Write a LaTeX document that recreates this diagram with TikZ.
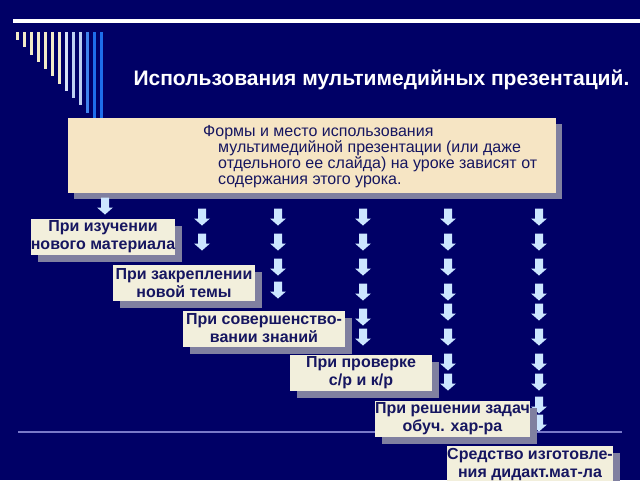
\documentclass[tikz,border=0pt]{standalone}
\usepackage{fontspec}
\setmainfont{Liberation Sans}
\usetikzlibrary{shadows}
\definecolor{navybg}{RGB}{0,0,102}
\definecolor{ink}{RGB}{22,22,96}
\definecolor{lblfill}{RGB}{242,239,220}
\definecolor{formfill}{RGB}{246,229,196}
\definecolor{shade}{RGB}{128,128,160}
\definecolor{arrfill}{RGB}{204,230,255}
\definecolor{rule}{RGB}{120,120,200}
\definecolor{barcream}{RGB}{242,235,200}
\definecolor{barpale}{RGB}{190,208,242}
\definecolor{barblue}{RGB}{30,110,235}

\begin{document}
\begin{tikzpicture}[x=1pt, y=-1pt,
  lbl/.style={fill=lblfill, text=ink, font=\fontsize{16}{18}\selectfont\bfseries,
    align=center, inner sep=0pt, minimum width=#1, minimum height=36pt,
    drop shadow={shadow xshift=7pt, shadow yshift=-7pt, fill=shade, opacity=1}},
  downarr/.pic={\fill[arrfill] (-4,-8.5) -- (4,-8.5) -- (4,1.5) -- (8,1.5) -- (0,8.5) -- (-8,1.5) -- (-4,1.5) -- cycle;}]
\useasboundingbox (0,0) rectangle (640,480);
\clip (0,0) rectangle (640,480);
\fill[navybg] (0,0) rectangle (640,480);
%\draw[white] (0,0) rectangle (640,480);
\draw[white, line width=4pt] (13,21) -- (640,21);
\foreach \i/\c in {0/barcream,1/barcream,2/barcream,3/barcream,4/barcream,5/barcream,6/barcream,
    7/barpale!60!white,8/barpale,9/barpale,10/barblue!85!white,11/barblue,12/barblue}
  \draw[\c, line width=2.7pt] (17.3+7.03*\i,32) -- (17.3+7.03*\i,{\i<11 ? 40+7.25*\i : 125});
\node[white, font=\fontsize{21}{24}\selectfont\bfseries, anchor=base west] (title) at (130,85)
  {Использования мультимедийных презентаций.};
\draw[rule, line width=1.5pt] (18,432) -- (622,432);

\node[fill=formfill, minimum width=488pt, minimum height=75pt, inner sep=0pt,
  drop shadow={shadow xshift=6pt, shadow yshift=-6pt, fill=shade, opacity=1}] (formbox) at (312,155.5) {};
\node[text=ink, font=\fontsize{16}{16}\selectfont, align=left, anchor=north west, inner sep=0pt] (formtext) at (203,125)
  {Формы и место использования\\
   \hspace*{15pt}мультимедийной презентации (или даже\\
   \hspace*{15pt}отдельного ее слайда) на уроке зависят от\\
   \hspace*{15pt}содержания этого урока.};

\pic at (105,206) {downarr};
\foreach \x/\ys in {202/{217,242}, 278/{217,242,267,290}, 363/{217,242,267,292,317,337},
    448/{217,242,267,292,312,337,362,382}, 539/{217,242,267,292,312,337,362,382,405,423}}
  \foreach \y in \ys
    \pic at (\x,\y) {downarr};

\node[lbl=142pt] (study) at (103,237) {При изучении\\нового материала};
\node[lbl=142pt] (fix) at (184,283) {При закреплении\\новой темы};
\node[lbl=162pt] (improve) at (264,328.5) {При совершенство-\\вании знаний};
\node[lbl=142pt] (check) at (361,372.5) {При проверке\\с/р и к/р};
\node[lbl=155pt] (tasks) at (452.5,418.5) {При решении задач\\обуч. хар-ра};
\node[lbl=166pt] (tool) at (530,464) {Средство изготовле-\\ния дидакт.мат-ла};
\end{tikzpicture}
\end{document}
